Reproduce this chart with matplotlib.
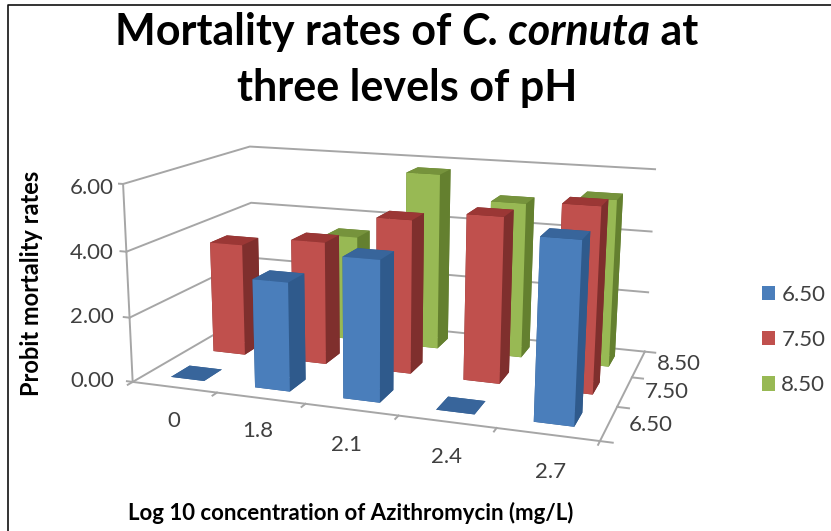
import matplotlib
matplotlib.use("Agg")
import matplotlib.pyplot as plt
from matplotlib.lines import Line2D
from matplotlib.patches import Patch

plt.rcParams['font.family'] = ['Lato', 'DejaVu Sans']

# Data
concentrations = ["0", "1.8", "2.1", "2.4", "2.7"]
ph_levels = ["6.50", "7.50", "8.50"]
ph_650 = [0.0, 3.3, 4.2, 0.0, 5.2]
ph_750 = [3.6, 3.9, 4.8, 5.1, 5.6]
ph_850 = [0.0, 3.5, 5.75, 5.0, 5.3]
z_ticks = [0, 2, 4, 6]

# front, side and top colour for each series
colors = {
    "6.50": ("#4A7EBB", "#2F5A8C", "#38659B"),
    "7.50": ("#C0504D", "#7F2F2D", "#9B3735"),
    "8.50": ("#98B954", "#64802F", "#76933C"),
}
grey = "#A6A6A6"
dark = "#404040"

fig = plt.figure(figsize=(8.31, 5.31), dpi=100)
fig.patch.set_facecolor("white")


def put(x, y, s, **kw):
    # place text by its pixel position in the picture
    return fig.text(x / 831, 1 - y / 531, s, **kw)


# view fitted to the corners of the box in the picture
ax = fig.add_axes([117.60/831, -24.56/531, 550.22/831, 550.22/531], projection="3d", computed_zorder=False)
ax.set_xlim(0, 5, view_margin=0)
ax.set_ylim(0, 3, view_margin=0)
ax.set_zlim(0, 6, view_margin=0)
ax.view_init(elev=13.814, azim=-71.1157, roll=-0.3546)
ax.set_proj_type("persp", focal_length=0.4126)
ax.set_box_aspect((1.6845, 1, 0.7197))
ax.set_axis_off()
ax.patch.set_alpha(0)

line = dict(color=grey, lw=1.4, zorder=1)

# walls and floor
for z in z_ticks:
    ax.plot([0, 0, 5], [0, 3, 3], [z, z, z], **line)
ax.plot([0, 0], [0, 0], [0, 6], **line)
ax.plot([0, 5, 5], [0, 0, 3], [0, 0, 0], **line)

# tick marks
for z in z_ticks:
    ax.plot([0, -0.07], [0, 0], [z, z], **line)
for i in range(6):
    ax.plot([i, i], [0, -0.1], [0, 0], **line)
for j in range(4):
    ax.plot([5, 5.12], [j, j], [0, 0], **line)

# tick labels
tick_font = dict(fontsize=16, color=dark, ha="center", va="center")
for z, py in zip(z_ticks, [381, 317, 253, 188]):
    put(92, py, f"{z:.2f}", **tick_font)
for name, px, py in zip(concentrations, [174, 258, 347, 446, 551], [421, 431, 445, 457, 472]):
    put(px, py, name, **tick_font)
for name, px, py in zip(ph_levels, [651, 667, 679], [425, 392, 364]):
    put(px, py, name, **tick_font)

# bars, back row first so the nearer ones cover them
width = 0.4
depth = 0.42
rows = [("8.50", ph_850, 2), ("7.50", ph_750, 1), ("6.50", ph_650, 0)]
order = 2
for name, values, j in rows:
    front, side, top = colors[name]
    for i, v in enumerate(values):
        # faces: bottom, top, front, back, left, right
        ax.bar3d(i + 0.5 - width/2, j + 0.5 - depth/2, 0, width, depth, v,
                 color=[side, top, front, side, side, side], shade=False,
                 zorder=order)
        order += 1

# title, the species name is in italics
pieces = [("Mortality rates of ", "normal"), ("C. cornuta", "italic"), (" at", "normal")]
renderer = fig.canvas.get_renderer()
title_font = dict(fontsize=31, fontweight="bold", color="black", va="center")
placed = [put(10, 32, t.replace(" ", "\u00a0"), fontstyle=s, **title_font) for t, s in pieces]
widths = [p.get_window_extent(renderer).width for p in placed]
x = 407 - sum(widths) / 2
for p, w in zip(placed, widths):
    p.set_x(x / 831)
    x += w
put(407, 88, "three levels of pH", ha="center", **title_font)

put(32, 283, "Probit mortality rates", rotation=90, ha="center", va="center",
    fontsize=17, fontweight="bold", color="black")
put(351, 513, "Log 10 concentration of Azithromycin (mg/L)", ha="center", va="center",
    fontsize=16, fontweight="bold", color="black")

# legend
handles = [Patch(facecolor=colors[n][0], label=n) for n in ph_levels]
fig.legend(handles=handles, loc="center left", bbox_to_anchor=(762/831, 1 - 340/531), frameon=False,
           fontsize=16, labelcolor=dark, handlelength=0.6, handleheight=0.6, handletextpad=0.27,
           labelspacing=1.14, borderpad=0, borderaxespad=0)

# frame of the screenshot, left and top only
fig.add_artist(Line2D([8/831, 8/831, 1], [0, 1 - 5/531, 1 - 5/531], color="#111111", lw=1.2))

fig.savefig("out.png", dpi=100)
